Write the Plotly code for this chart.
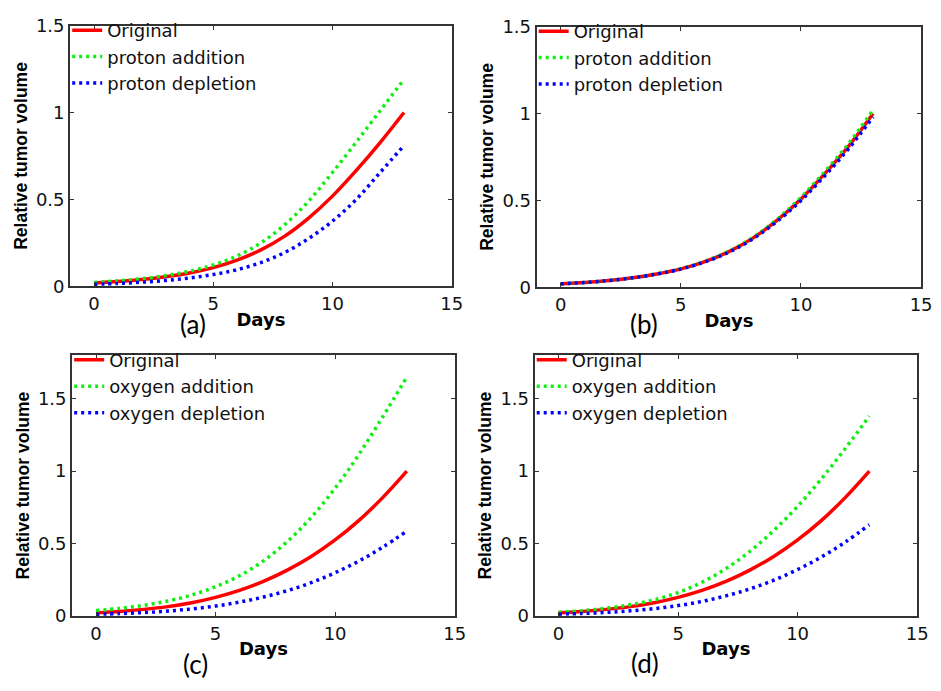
import plotly.graph_objects as go

days = list(range(14))

# Panel (a): proton variation
a_original = [0.020, 0.028, 0.039, 0.055, 0.077, 0.108, 0.151, 0.210, 0.289, 0.393, 0.519, 0.667, 0.827, 1.000]
a_add      = [0.023, 0.032, 0.044, 0.062, 0.087, 0.123, 0.175, 0.250, 0.355, 0.490, 0.655, 0.830, 1.010, 1.190]
a_dep      = [0.012, 0.017, 0.024, 0.034, 0.048, 0.068, 0.096, 0.137, 0.195, 0.275, 0.375, 0.500, 0.655, 0.810]

# Panel (b): proton variation (nearly identical curves)
b_original = [0.020, 0.028, 0.039, 0.055, 0.077, 0.106, 0.148, 0.205, 0.283, 0.385, 0.508, 0.655, 0.815, 1.000]
b_add      = [0.020, 0.028, 0.039, 0.055, 0.078, 0.107, 0.150, 0.208, 0.287, 0.391, 0.517, 0.667, 0.830, 1.020]
b_dep      = [0.020, 0.028, 0.039, 0.055, 0.076, 0.105, 0.146, 0.202, 0.279, 0.379, 0.499, 0.643, 0.800, 0.980]

# Panel (c): oxygen variation
c_original = [0.023, 0.032, 0.046, 0.065, 0.092, 0.129, 0.177, 0.239, 0.317, 0.411, 0.525, 0.660, 0.819, 1.000]
c_add      = [0.038, 0.053, 0.074, 0.104, 0.145, 0.202, 0.278, 0.381, 0.514, 0.680, 0.882, 1.116, 1.377, 1.649]
c_dep      = [0.012, 0.017, 0.024, 0.034, 0.049, 0.069, 0.096, 0.131, 0.175, 0.230, 0.299, 0.380, 0.476, 0.586]

# Panel (d): oxygen variation
d_original = [0.023, 0.032, 0.046, 0.065, 0.092, 0.129, 0.177, 0.239, 0.317, 0.411, 0.525, 0.660, 0.819, 1.000]
d_add      = [0.026, 0.037, 0.054, 0.078, 0.112, 0.162, 0.233, 0.327, 0.446, 0.590, 0.757, 0.948, 1.158, 1.380]
d_dep      = [0.013, 0.018, 0.025, 0.036, 0.051, 0.072, 0.101, 0.139, 0.187, 0.247, 0.321, 0.408, 0.511, 0.630]

panel_labels = ["(a)", "(b)", "(c)", "(d)"]
series_names_proton = ["Original", "proton addition", "proton depletion"]
series_names_oxygen = ["Original", "oxygen addition", "oxygen depletion"]
x_ticks = [0, 5, 10, 15]
x_ticklabels = ["0", "5", "10", "15"]
y_ticks = [0, 0.5, 1, 1.5]
y_ticklabels = ["0", "0.5", "1", "1.5"]

W, H = 941, 691

def px_x(p):
    return p / W

def px_y(p):
    return 1 - p / H

# axis boxes in pixels: (left, right, top, bottom)
boxes = [(71, 457, 15, 284), (543, 932, 16, 285), (73, 460, 355, 624), (541, 928, 355, 624)]
yranges = [[0, 1.5], [0, 1.5], [0, 1.8], [0, 1.8]]

panels = [
    (a_original, a_add, a_dep, series_names_proton),
    (b_original, b_add, b_dep, series_names_proton),
    (c_original, c_add, c_dep, series_names_oxygen),
    (d_original, d_add, d_dep, series_names_oxygen),
]

fig = go.Figure()
tick_font = dict(family="DejaVu Sans", size=18, color="#111111")
title_font_x = dict(family="DejaVu Sans", size=18, color="#000000")
title_font_y = dict(family="Liberation Sans", size=17.5, color="#000000")
legend_font = dict(family="DejaVu Sans", size=18, color="#111111")

layout = dict(width=W, height=H, margin=dict(l=0, r=0, t=0, b=0),
              paper_bgcolor="white", plot_bgcolor="white", showlegend=True)

annotations = []
for i, (orig, add, dep, names) in enumerate(panels):
    n = i + 1
    xa = "x" if n == 1 else f"x{n}"
    ya = "y" if n == 1 else f"y{n}"
    leg = "legend" if n == 1 else f"legend{n}"
    styles = [
        (orig, names[0], dict(color="#ff0000", width=3.5, dash="solid")),
        (add, names[1], dict(color="#11ee11", width=3.5, dash="3px,4px")),
        (dep, names[2], dict(color="#0000ff", width=3.5, dash="3px,4px")),
    ]
    for vals, name, line in styles:
        fig.add_trace(go.Scatter(x=days, y=vals, name=name, mode="lines",
                                 line=dict(shape="spline", **line),
                                 xaxis=xa, yaxis=ya, legend=leg))
    l, r, t, b = boxes[i]
    axline = dict(showline=True, linecolor="#333333", linewidth=2, mirror="ticks",
                  ticks="inside", ticklen=4, tickcolor="#333333", tickwidth=1,
                  showgrid=False, zeroline=False, tickfont=tick_font)
    xkey = "xaxis" if n == 1 else f"xaxis{n}"
    ykey = "yaxis" if n == 1 else f"yaxis{n}"
    layout[xkey] = dict(domain=[px_x(l), px_x(r)], range=[-1, 15], anchor=ya,
                        tickvals=x_ticks, ticktext=x_ticklabels,
                        title=dict(text="<b>Days</b>", font=title_font_x, standoff=0),
                        **axline)
    layout[ykey] = dict(domain=[px_y(b), px_y(t)], range=yranges[i], anchor=xa,
                        tickvals=y_ticks, ticktext=y_ticklabels,
                        title=dict(text="<b>Relative tumor volume</b>", font=title_font_y, standoff=4),
                        **axline)
    layout[leg] = dict(x=px_x(l - 3), y=px_y(t - 14), xanchor="left", yanchor="top",
                       bgcolor="rgba(0,0,0,0)", borderwidth=0, font=legend_font,
                       tracegroupgap=0, itemclick=False)

label_pos = [(195, 323), (652, 323), (198, 673), (653, 672)]
for lab, (x, y) in zip(panel_labels, label_pos):
    annotations.append(dict(text=lab, x=px_x(x), y=px_y(y), xref="paper", yref="paper",
                            showarrow=False, xanchor="center", yanchor="middle",
                            font=dict(family="Lato", size=26, color="#000000")))
layout["annotations"] = annotations

fig.update_layout(**layout)
fig.write_html("out.html")
